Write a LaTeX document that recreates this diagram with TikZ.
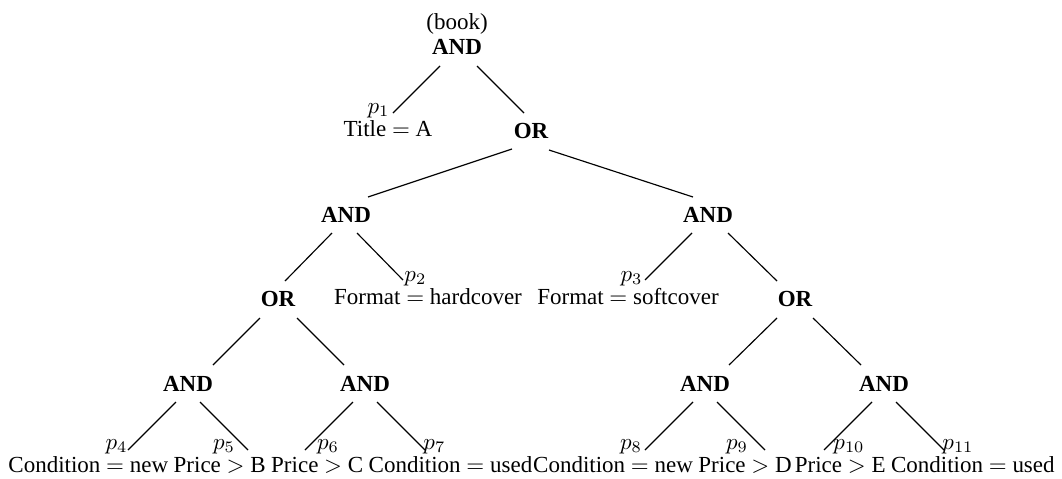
\documentclass[tikz,border=0pt]{standalone}
\usepackage{fontspec}
\setmainfont{Liberation Serif}
\begin{document}
\begin{tikzpicture}[x=0.4348pt,y=-0.4348pt,
  gate/.style={font=\bfseries, inner sep=0pt, anchor=base},
  lbl/.style={inner sep=0pt, anchor=base},
  leaf/.style={inner sep=0pt, anchor=base west},
  plab/.style={inner sep=0pt},
  edge/.style={line width=0.5pt}]
\useasboundingbox (0,0) rectangle (1062,478);
% internal nodes
\node[lbl] (book) at (457,29) {(book)};
\node[gate] (root) at (457,54) {AND};
\node[lbl] (title) at (388,136) {Title $=$ A};
\node[gate] (or1) at (531,138) {OR};
\node[gate] (and2l) at (346,222) {AND};
\node[gate] (and2r) at (708,222) {AND};
\node[lbl] (hard) at (428,304) {Format $=$ hardcover};
\node[lbl] (soft) at (628,304) {Format $=$ softcover};
\node[gate] (or3l) at (278,306) {OR};
\node[gate] (or3r) at (795,306) {OR};
\node[gate] (and4a) at (188,391) {AND};
\node[gate] (and4b) at (365,391) {AND};
\node[gate] (and4c) at (705,391) {AND};
\node[gate] (and4d) at (884,391) {AND};
% leaves
\node[leaf] (l1) at (8,472) {Condition $=$ new};
\node[leaf] (l2) at ([xshift=2pt]l1.base east) {Price $>$ B};
\node[leaf] (l3) at ([xshift=2pt]l2.base east) {Price $>$ C};
\node[leaf] (l4) at ([xshift=2pt]l3.base east) {Condition $=$ used};
\node[leaf] (l5) at (l4.base east) {Condition $=$ new};
\node[leaf] (l6) at ([xshift=2pt]l5.base east) {Price $>$ D};
\node[leaf] (l7) at ([xshift=1pt]l6.base east) {Price $>$ E};
\node[leaf] (l8) at ([xshift=2pt]l7.base east) {Condition $=$ used};
% edge end points
\coordinate (e1) at (393,113);
\coordinate (e2) at (403,280);
\coordinate (e3) at (645,280);
\coordinate (e4) at (128,450);
\coordinate (e5) at (248,450);
\coordinate (e6) at (305,450);
\coordinate (e7) at (425,450);
\coordinate (e8) at (645,450);
\coordinate (e9) at (765,450);
\coordinate (e10) at (824,450);
\coordinate (e11) at (944,450);
% predicate labels
\node[plab, anchor=base east] (p1) at (390,113) {$p_1$};
\node[plab, anchor=base west] (p2) at (404,281) {$p_2$};
\node[plab, anchor=base east] (p3) at (643,281) {$p_3$};
\node[plab, anchor=base east] (p4) at (128,449) {$p_4$};
\node[plab, anchor=base] (p5) at (224,449) {$p_5$};
\node[plab, anchor=base] (p6) at (328,449) {$p_6$};
\node[plab, anchor=base west] (p7) at (423,449) {$p_7$};
\node[plab, anchor=base] (p8) at (631,449) {$p_8$};
\node[plab, anchor=base] (p9) at (737,449) {$p_9$};
\node[plab, anchor=base] (p10) at (849,449) {$p_{10}$};
\node[plab, anchor=base] (p11) at (958,449) {$p_{11}$};
% edges
\draw[edge] ([shift={(-17,12)}]root.base) -- (e1);
\draw[edge] ([shift={(20,12)}]root.base) -- ([shift={(-7,-25)}]or1.base);
\draw[edge] ([shift={(-19,11)}]or1.base) -- ([shift={(22,-25)}]and2l.base);
\draw[edge] ([shift={(18,12)}]or1.base) -- ([shift={(-15,-25)}]and2r.base);
\draw[edge] ([shift={(-14,11)}]and2l.base) -- ([shift={(7,-25)}]or3l.base);
\draw[edge] ([shift={(11,11)}]and2l.base) -- (e2);
\draw[edge] ([shift={(-16,11)}]and2r.base) -- (e3);
\draw[edge] ([shift={(20,11)}]and2r.base) -- ([shift={(-18,-25)}]or3r.base);
\draw[edge] ([shift={(-18,12)}]or3l.base) -- ([shift={(25,-26)}]and4a.base);
\draw[edge] ([shift={(19,12)}]or3l.base) -- ([shift={(-21,-26)}]and4b.base);
\draw[edge] ([shift={(-18,12)}]or3r.base) -- ([shift={(24,-26)}]and4c.base);
\draw[edge] ([shift={(18,12)}]or3r.base) -- ([shift={(-23,-26)}]and4d.base);
\draw[edge] ([shift={(-12,11)}]and4a.base) -- (e4);
\draw[edge] ([shift={(12,11)}]and4a.base) -- (e5);
\draw[edge] ([shift={(-12,11)}]and4b.base) -- (e6);
\draw[edge] ([shift={(12,11)}]and4b.base) -- (e7);
\draw[edge] ([shift={(-12,11)}]and4c.base) -- (e8);
\draw[edge] ([shift={(12,11)}]and4c.base) -- (e9);
\draw[edge] ([shift={(-12,11)}]and4d.base) -- (e10);
\draw[edge] ([shift={(12,11)}]and4d.base) -- (e11);
\end{tikzpicture}
\end{document}
